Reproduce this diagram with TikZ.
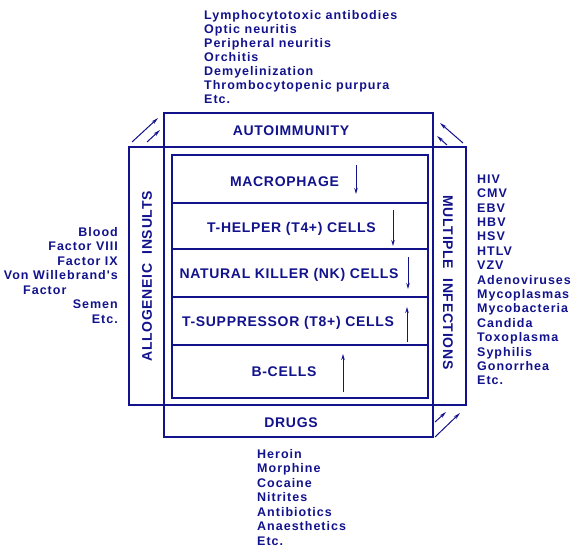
\documentclass[tikz,border=0pt]{standalone}
\usepackage{fontspec}
\setmainfont{Liberation Sans}
\newfontfamily\lstfont[LetterSpace=8]{Liberation Sans}
\newfontfamily\boxfont[LetterSpace=5]{Liberation Sans}
\usetikzlibrary{arrows.meta}
\definecolor{ink}{RGB}{18,18,140}
\tikzset{
  lst/.style={font=\lstfont\bfseries\fontsize{12.5}{14}\selectfont, text=ink, inner sep=0pt, anchor=base west},
  lstr/.style={lst, anchor=base east},
  blab/.style={font=\boxfont\bfseries\fontsize{14}{16}\selectfont, text=ink, inner sep=0pt, anchor=base},
  rlab/.style={font=\boxfont\bfseries\fontsize{14}{16}\selectfont, text=ink, inner sep=0pt, anchor=center},
  outerbox/.style={draw=ink, line width=2.6pt},
  rowline/.style={draw=ink, line width=2pt},
  varrow/.style={draw=ink, line width=1pt, -{Stealth[length=6pt,width=3.5pt]}},
  carrow/.style={draw=ink, line width=1pt, -{Stealth[length=7pt,width=3.5pt]}}
}
\begin{document}
\begin{tikzpicture}[x=1pt,y=-1pt]
\useasboundingbox (0,0) rectangle (580,552);
% boxes
\draw[outerbox] (164,113) rectangle (433,437);
\draw[outerbox] (129,147) rectangle (466,405);
\draw[outerbox] (172,155) rectangle (428,398);
\foreach \yy in {203,249,297,345} \draw[rowline] (172,\yy) -- (428,\yy);
% box labels
\node[blab] (auto) at (291,135.7) {AUTOIMMUNITY};
\node[blab] (macro) at (284.5,186) {MACROPHAGE};
\node[blab] (th) at (291.5,232.7) {T-HELPER (T4+) CELLS};
\node[blab] (nk) at (289,278) {NATURAL KILLER (NK) CELLS};
\node[blab] (ts) at (288,326) {T-SUPPRESSOR (T8+) CELLS};
\node[blab] (bc) at (284,376) {B-CELLS};
\node[blab] (drugs) at (291,427) {DRUGS};
\node[rlab, rotate=90] (allo) at (147,276.5) {ALLOGENEIC\ \ INSULTS};
\node[rlab, rotate=-90] (multi) at (448,282.5) {MULTIPLE\ \ INFECTIONS};
% vertical arrows
\coordinate (a1s) at (356,165); \coordinate (a1e) at (356,194);
\coordinate (a2s) at (393,210); \coordinate (a2e) at (393,246);
\coordinate (a3s) at (408,257); \coordinate (a3e) at (408,289);
\coordinate (a4s) at (407,342); \coordinate (a4e) at (407,307);
\coordinate (a5s) at (343,392); \coordinate (a5e) at (343,354);
\draw[varrow] (a1s) -- (a1e);
\draw[varrow] (a2s) -- (a2e);
\draw[varrow] (a3s) -- (a3e);
\draw[varrow] (a4s) -- (a4e);
\draw[varrow] (a5s) -- (a5e);
% corner arrows
\coordinate (tl1s) at (132,142); \coordinate (tl1e) at (158,118);
\coordinate (tl2s) at (147,142); \coordinate (tl2e) at (160,130);
\coordinate (tr1s) at (463,143); \coordinate (tr1e) at (440,123);
\coordinate (tr2s) at (447,145); \coordinate (tr2e) at (437,136);
\coordinate (br1s) at (435,437); \coordinate (br1e) at (460,413);
\coordinate (br2s) at (435,422); \coordinate (br2e) at (446,412);
\draw[carrow] (tl1s) -- (tl1e);
\draw[carrow] (tl2s) -- (tl2e);
\draw[carrow] (tr1s) -- (tr1e);
\draw[carrow] (tr2s) -- (tr2e);
\draw[carrow] (br1s) -- (br1e);
\draw[carrow] (br2s) -- (br2e);
% top list
\node[lst] (t1) at (204,19) {Lymphocytotoxic antibodies};
\node[lst] (t2) at (204,33.1) {Optic neuritis};
\node[lst] (t3) at (204,47.2) {Peripheral neuritis};
\node[lst] (t4) at (204,61.3) {Orchitis};
\node[lst] (t5) at (204,75.4) {Demyelinization};
\node[lst] (t6) at (204,89.5) {Thrombocytopenic purpura};
\node[lst] (t7) at (204,103.6) {Etc.};
% left list
\node[lstr] (l1) at (118,236) {Blood};
\node[lstr] (l2) at (118,250.5) {Factor VIII};
\node[lstr] (l3) at (118,265) {Factor IX};
\node[lstr] (l4) at (118,279.5) {Von Willebrand's};
\node[lst] (l5) at (23,294) {Factor};
\node[lstr] (l6) at (118,308.5) {Semen};
\node[lstr] (l7) at (118,323) {Etc.};
% right list
\foreach \t [count=\i from 0] in {HIV,CMV,EBV,HBV,HSV,HTLV,VZV,Adenoviruses,Mycoplasmas,Mycobacteria,Candida,Toxoplasma,Syphilis,Gonorrhea,Etc.}
  \node[lst] (r\i) at (477,183.3+14.4*\i) {\t};
% bottom list
\foreach \t [count=\i from 0] in {Heroin,Morphine,Cocaine,Nitrites,Antibiotics,Anaesthetics,Etc.}
  \node[lst] (b\i) at (257,458.3+14.45*\i) {\t};
\end{tikzpicture}
\end{document}
